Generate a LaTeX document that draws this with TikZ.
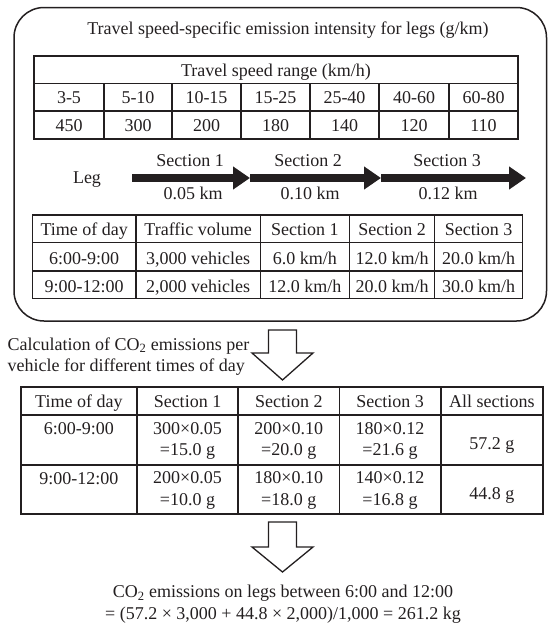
\documentclass[tikz,border=0pt]{standalone}
\usepackage{fontspec}
\setmainfont{Liberation Serif}
\usetikzlibrary{arrows.meta,positioning}
\definecolor{ink}{HTML}{231F20}
\tikzset{
    rule/.style={draw=ink, line width=1.3pt},
    boldrule/.style={draw=ink, line width=1.8pt},
    legarrow/.style={draw=ink, line width=8.5pt, -{Triangle[length=17pt,width=22pt]}},
    blockarrow/.style={draw=ink, line width=1.3pt, fill=white, line join=miter},
}

\begin{document}
\begin{tikzpicture}[x=1pt, y=-1pt, font=\fontsize{18}{21.5}\selectfont, text=ink,
    every node/.style={anchor=base, inner sep=0pt}]
    \useasboundingbox (0,0) rectangle (548,624);

    % Input box
    \draw[rule, line width=1.5pt, rounded corners=30pt] (14,7.5) rectangle (546.5,321);
    \node (title) at (288,34) {Travel speed-specific emission intensity for legs (g/km)};

    % Emission intensity table
    \draw[rule] (34,56) rectangle (518,139);
    \draw[rule] (34,83.5) -- (518,83.5);
    \draw[boldrule] (34,111) -- (518,111);
    \draw[rule] (104,83.5) -- (104,139);
    \draw[rule] (172,83.5) -- (172,139);
    \draw[rule] (241,83.5) -- (241,139);
    \draw[rule] (310,83.5) -- (310,139);
    \draw[rule] (379,83.5) -- (379,139);
    \draw[rule] (449,83.5) -- (449,139);
    \node (range) at (276,76) {Travel speed range (km/h)};
    \node (v1) at (69,103) {3-5};
    \node (v2) at (138,103) {5-10};
    \node (v3) at (206.5,103) {10-15};
    \node (v4) at (275.5,103) {15-25};
    \node (v5) at (344.5,103) {25-40};
    \node (v6) at (414,103) {40-60};
    \node (v7) at (483.5,103) {60-80};
    \node (e1) at (69,131) {450};
    \node (e2) at (138,131) {300};
    \node (e3) at (206.5,131) {200};
    \node (e4) at (275.5,131) {180};
    \node (e5) at (344.5,131) {140};
    \node (e6) at (414,131) {120};
    \node (e7) at (483.5,131) {110};

    % Leg
    \node (leg) at (87,183) {Leg};
    \coordinate (s0) at (132,178);
    \coordinate (s1) at (250,178);
    \coordinate (s2) at (381,178);
    \coordinate (s3) at (526,178);
    \draw[legarrow] (s0) -- (s1);
    \draw[legarrow] (s1) -- (s2);
    \draw[legarrow] (s2) -- (s3);
    \node (sec1) at (190,166) {Section 1};
    \node (sec2) at (308,166) {Section 2};
    \node (sec3) at (447,166) {Section 3};
    \node (len1) at (193,199) {0.05 km};
    \node (len2) at (310,199) {0.10 km};
    \node (len3) at (448,199) {0.12 km};

    % Traffic table
    \draw[rule] (32.3,215) rectangle (522.3,298.3);
    \draw[rule] (32.3,242.7) -- (522.3,242.7);
    \draw[rule] (32.3,271) -- (522.3,271);
    \draw[rule] (136,215) -- (136,298.3);
    \draw[rule] (260.3,215) -- (260.3,298.3);
    \draw[rule] (349.5,215) -- (349.5,298.3);
    \draw[rule] (434.7,215) -- (434.7,298.3);
    \node (tod) at (84.2,235) {Time of day};
    \node (vol) at (198.2,235) {Traffic volume};
    \node (hd1) at (304.9,235) {Section 1};
    \node (hd2) at (392.1,235) {Section 2};
    \node (hd3) at (478.5,235) {Section 3};
    \node (t1) at (84.2,264) {6:00-9:00};
    \node (n1) at (198.2,264) {3,000 vehicles};
    \node (a1) at (304.9,264) {6.0 km/h};
    \node (b1) at (392.1,264) {12.0 km/h};
    \node (c1) at (478.5,264) {20.0 km/h};
    \node (t2) at (84.2,292) {9:00-12:00};
    \node (n2) at (198.2,292) {2,000 vehicles};
    \node (a2) at (304.9,292) {12.0 km/h};
    \node (b2) at (392.1,292) {20.0 km/h};
    \node (c2) at (478.5,292) {30.0 km/h};

    % First step
    \draw[blockarrow] (268.5,330) -- (296.5,330) -- (296.5,353) -- (313,353)
        -- (282.5,380) -- (252,353) -- (268.5,353) -- cycle;
    \node[anchor=west, align=left] (calc) at (7.5,356.5)
        {Calculation of CO\textsubscript{2} emissions per\\vehicle for different times of day};

    % Emission table
    \draw[boldrule] (20.7,387) rectangle (543,514);
    \draw[boldrule] (20.7,415) -- (543,415);
    \draw[boldrule] (20.7,465) -- (543,465);
    \draw[boldrule] (137,387) -- (137,514);
    \draw[boldrule] (238,387) -- (238,514);
    \draw[boldrule] (339.5,387) -- (339.5,514);
    \draw[boldrule] (440.7,387) -- (440.7,514);
    \node (gtod) at (78.9,407) {Time of day};
    \node (g1) at (187.5,407) {Section 1};
    \node (g2) at (288.8,407) {Section 2};
    \node (g3) at (390,407) {Section 3};
    \node (gall) at (491.9,407) {All sections};
    \node (m1) at (78.9,434.5) {6:00-9:00};
    \node[anchor=center, align=center] (x11) at (187.5,441) {300×0.05\\=15.0 g};
    \node[anchor=center, align=center] (x12) at (288.8,441) {200×0.10\\=20.0 g};
    \node[anchor=center, align=center] (x13) at (390,441) {180×0.12\\=21.6 g};
    \node (sum1) at (491.9,449) {57.2 g};
    \node (m2) at (78.9,484) {9:00-12:00};
    \node[anchor=center, align=center] (x21) at (187.5,490.5) {200×0.05\\=10.0 g};
    \node[anchor=center, align=center] (x22) at (288.8,490.5) {180×0.10\\=18.0 g};
    \node[anchor=center, align=center] (x23) at (390,490.5) {140×0.12\\=16.8 g};
    \node (sum2) at (491.9,499) {44.8 g};

    % Second step
    \draw[blockarrow] (268.5,522) -- (296.5,522) -- (296.5,547) -- (313,547)
        -- (282.5,572) -- (252,547) -- (268.5,547) -- cycle;
    \node[anchor=center, align=center] (total) at (283,604)
        {CO\textsubscript{2} emissions on legs between 6:00 and 12:00\\= (57.2 × 3,000 + 44.8 × 2,000)/1,000 = 261.2 kg};
\end{tikzpicture}
\end{document}
